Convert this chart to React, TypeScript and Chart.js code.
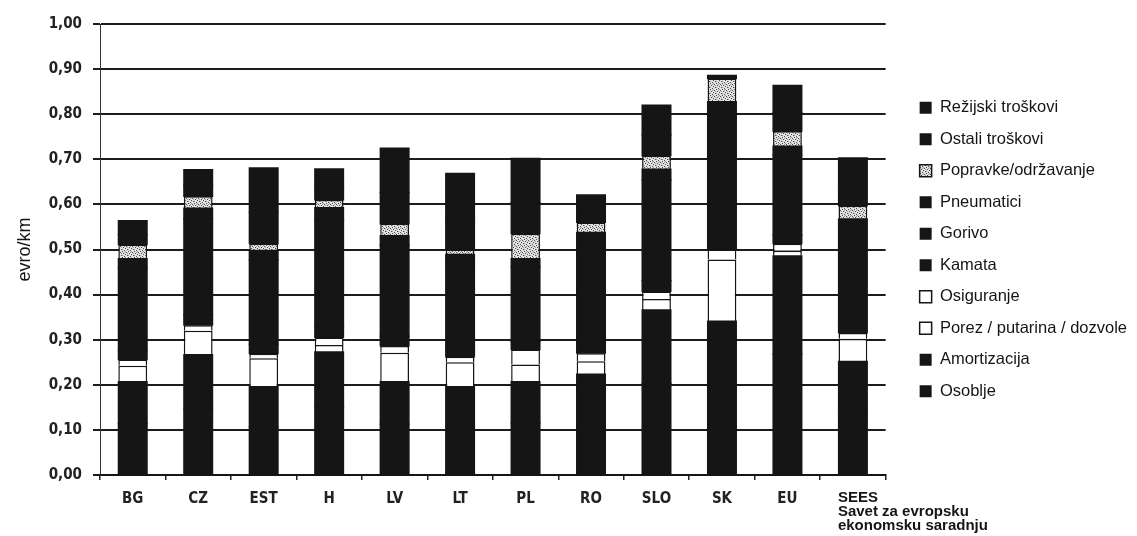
import { useEffect, useRef } from 'react';
import { Chart, registerables } from 'chart.js';

Chart.register(...registerables);

// Cost per kilometre by country, stacked from the bottom up (evro/km)
const categories = ['BG', 'CZ', 'EST', 'H', 'LV', 'LT', 'PL', 'RO', 'SLO', 'SK', 'EU', 'SEES'];

const osoblje = [0.114, 0.148, 0.106, 0.151, 0.113, 0.107, 0.115, 0.122, 0.203, 0.188, 0.268, 0.139];
const amortizacija = [0.093, 0.119, 0.090, 0.122, 0.094, 0.089, 0.092, 0.102, 0.163, 0.153, 0.218, 0.113];
const porez = [0.035, 0.053, 0.063, 0.015, 0.064, 0.054, 0.038, 0.028, 0.024, 0.137, 0.011, 0.050];
const osiguranje = [0.014, 0.012, 0.010, 0.017, 0.015, 0.012, 0.033, 0.018, 0.017, 0.022, 0.016, 0.013];
const kamata = [0.020, 0.023, 0.021, 0.025, 0.022, 0.020, 0.018, 0.024, 0.024, 0.029, 0.019, 0.022];
const gorivo = [0.184, 0.213, 0.187, 0.237, 0.201, 0.186, 0.166, 0.220, 0.223, 0.270, 0.178, 0.209];
const pneumatici = [0.020, 0.024, 0.021, 0.026, 0.022, 0.021, 0.018, 0.024, 0.024, 0.029, 0.019, 0.022];
const popravke = [0.031, 0.026, 0.015, 0.017, 0.026, 0.011, 0.055, 0.022, 0.030, 0.051, 0.033, 0.029];
const ostali = [0.022, 0.024, 0.069, 0.028, 0.069, 0.070, 0.069, 0.025, 0.046, 0.003, 0.042, 0.044];
const rezijski = [0.031, 0.035, 0.099, 0.041, 0.099, 0.099, 0.098, 0.036, 0.066, 0.004, 0.060, 0.062];

const yTickLabels = ['0,00', '0,10', '0,20', '0,30', '0,40', '0,50', '0,60', '0,70', '0,80', '0,90', '1,00'];
const seesLabel = ['SEES', 'Savet za evropsku', 'ekonomsku saradnju'];

const INK = '#151515';
const TICK_FONT = '"DejaVu Sans Condensed", "Liberation Sans Narrow", sans-serif';
const TEXT_FONT = '"Liberation Sans", Arial, sans-serif';

function speckledFill(): CanvasPattern | string {
  const tile = document.createElement('canvas');
  tile.width = 6;
  tile.height = 6;
  const g = tile.getContext('2d');
  if (!g) return '#b8b8b8';
  g.fillStyle = '#e2e2e2';
  g.fillRect(0, 0, 6, 6);
  g.fillStyle = '#4a4a4a';
  [[0, 0], [3, 1], [1, 3], [4, 4], [2, 5], [5, 2]].forEach(([x, y]) => g.fillRect(x, y, 1, 1));
  g.fillStyle = '#9a9a9a';
  [[1, 1], [2, 3], [5, 5], [4, 0]].forEach(([x, y]) => g.fillRect(x, y, 1, 1));
  return g.createPattern(tile, 'repeat') || '#b8b8b8';
}

// Multi-line, left-aligned caption under the last column
const seesLabelPlugin = {
  id: 'seesLabel',
  afterDraw(chart: any) {
    const xs = chart.scales.x;
    const left = xs.getPixelForValue(categories.length - 1) - 15;
    const ctx = chart.ctx;
    ctx.save();
    ctx.font = `bold 15px ${TEXT_FONT}`;
    ctx.fillStyle = INK;
    ctx.textAlign = 'left';
    ctx.textBaseline = 'alphabetic';
    seesLabel.forEach((line, i) => ctx.fillText(line, left, xs.top + 27 + i * 14));
    ctx.restore();
  },
};

export default function App() {
  const ref = useRef<HTMLCanvasElement>(null);

  useEffect(() => {
    document.body.style.margin = '0';
    const canvas = ref.current;
    if (!canvas) return;
    const speckle = speckledFill();

    const series = [
      { label: 'Osoblje', data: osoblje, fill: INK, outline: 0 },
      { label: 'Amortizacija', data: amortizacija, fill: INK, outline: 0 },
      { label: 'Porez / putarina / dozvole', data: porez, fill: '#ffffff', outline: 1.5 },
      { label: 'Osiguranje', data: osiguranje, fill: '#ffffff', outline: 1.5 },
      { label: 'Kamata', data: kamata, fill: INK, outline: 0 },
      { label: 'Gorivo', data: gorivo, fill: INK, outline: 0 },
      { label: 'Pneumatici', data: pneumatici, fill: INK, outline: 0 },
      { label: 'Popravke/održavanje', data: popravke, fill: speckle, outline: 1.5 },
      { label: 'Ostali troškovi', data: ostali, fill: INK, outline: 0 },
      { label: 'Režijski troškovi', data: rezijski, fill: INK, outline: 0 },
    ];

    const chart = new Chart(canvas, {
      type: 'bar',
      data: {
        labels: categories,
        datasets: series.map((s) => ({
          label: s.label,
          data: s.data,
          backgroundColor: s.fill as any,
          borderColor: INK,
          borderWidth: s.outline,
          inflateAmount: s.outline ? 0 : 0.6,
          categoryPercentage: 1,
          barPercentage: 0.44,
        })),
      },
      options: {
        animation: false,
        responsive: true,
        maintainAspectRatio: false,
        layout: { padding: { top: 24, right: 0, bottom: 0, left: 0 } },
        plugins: {
          tooltip: { enabled: false },
          legend: {
            position: 'right',
            reverse: true,
            fullSize: false,
            maxWidth: 240,
            labels: {
              boxWidth: 12,
              boxHeight: 12,
              padding: 15,
              color: INK,
              font: { family: TEXT_FONT, size: 16.5 },
            },
          },
        },
        scales: {
          x: {
            stacked: true,
            grid: { display: true, drawOnChartArea: false, drawTicks: true, tickLength: 5, color: '#222', lineWidth: 1.5 },
            border: { display: true, color: INK, width: 2 },
            ticks: {
              autoSkip: false,
              maxRotation: 0,
              padding: 10,
              color: '#222',
              font: { family: TICK_FONT, size: 15, weight: 'bold' },
              callback: (_v: any, i: number) => (i === categories.length - 1 ? '' : categories[i]),
            },
            afterFit: (s: any) => {
              s.height = 61;
            },
          },
          y: {
            stacked: true,
            min: 0,
            max: 1,
            grid: { color: '#1c1c1c', lineWidth: 2, tickLength: 7 },
            border: { display: true, color: '#333', width: 1 },
            ticks: {
              stepSize: 0.1,
              padding: 11,
              color: '#222',
              font: { family: TICK_FONT, size: 15, weight: 'bold' },
              callback: (_v: any, i: number) => yTickLabels[i],
            },
            title: {
              display: true,
              text: 'evro/km',
              color: INK,
              font: { family: TEXT_FONT, size: 18 },
              padding: { top: 14, bottom: 0 },
            },
            afterFit: (s: any) => {
              s.width = 100;
            },
          },
          gap: {
            type: 'linear',
            position: 'right',
            display: true,
            grid: { display: false, drawTicks: false },
            border: { display: false },
            ticks: { display: false },
            afterFit: (s: any) => {
              s.width = 19;
            },
          },
        },
      },
      plugins: [seesLabelPlugin],
    } as any);

    return () => chart.destroy();
  }, []);

  return (
    <div style={{ position: 'relative', width: 1137, height: 536, background: '#ffffff' }}>
      <canvas ref={ref} />
    </div>
  );
}
